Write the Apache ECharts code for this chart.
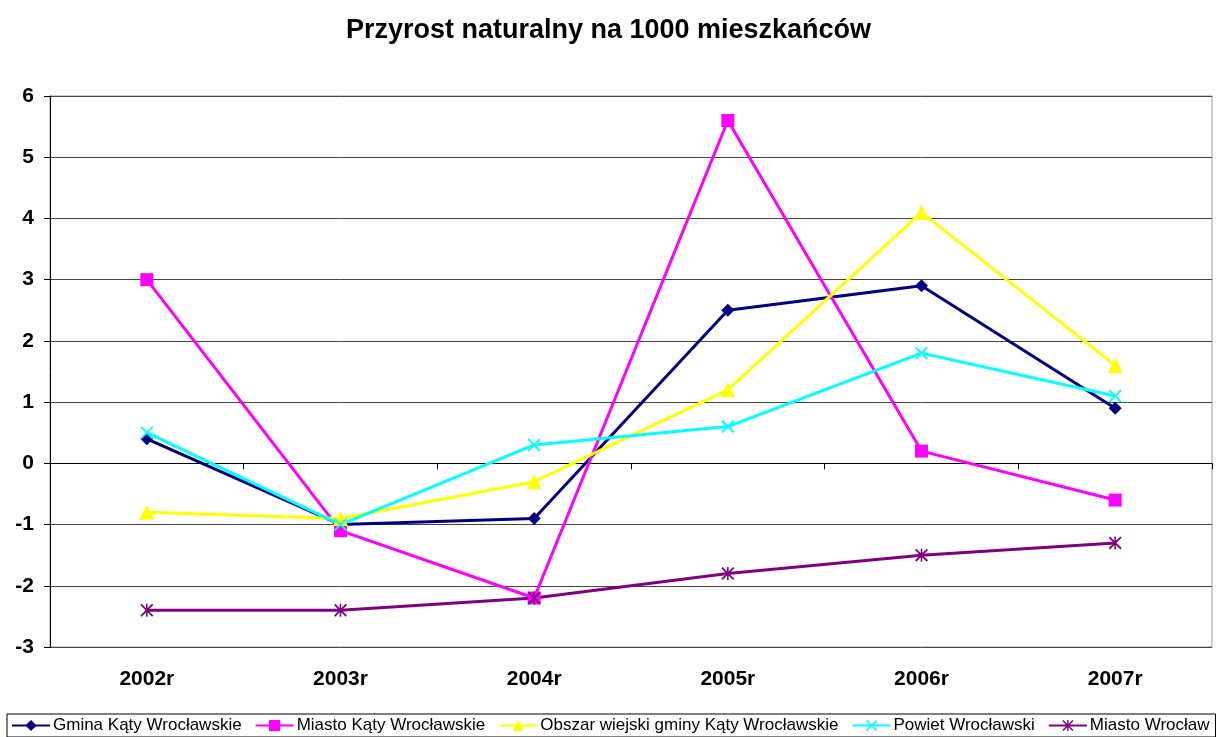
<!DOCTYPE html>
<html>
<head>
<meta charset="utf-8">
<script src="https://cdn.jsdelivr.net/npm/echarts@6/dist/echarts.min.js"></script>
<style>
  html, body { margin: 0; padding: 0; background: #fff; }
  #chart { width: 1217px; height: 737px; }
</style>
</head>
<body>
<div id="chart"></div>
<script>
var years = ['2002r', '2003r', '2004r', '2005r', '2006r', '2007r'];
var gminaKaty = [0.4, -1.0, -0.9, 2.5, 2.9, 0.9];
var miastoKaty = [3.0, -1.1, -2.2, 5.6, 0.2, -0.6];
var obszarWiejski = [-0.8, -0.9, -0.3, 1.2, 4.1, 1.6];
var powiatWroclawski = [0.5, -1.0, 0.3, 0.6, 1.8, 1.1];
var miastoWroclaw = [-2.4, -2.4, -2.2, -1.8, -1.5, -1.3];

// ksztalty znacznikow (x i gwiazdka) jako wypelnione sciezki
var crossPath = 'path://M0,1 L1,0 L5,4 L9,0 L10,1 L6,5 L10,9 L9,10 L5,6 L1,10 L0,9 L4,5 Z';
var starPath = 'path://M0,1 L1,0 L5,4 L9,0 L10,1 L6,5 L10,9 L9,10 L5,6 L1,10 L0,9 L4,5 Z M4.4,0 L5.6,0 L5.6,10 L4.4,10 Z';

function makeSeries (name, data, color, symbol, size) {
  return {
    name: name,
    type: 'line',
    data: data,
    symbol: symbol,
    symbolSize: size,
    showAllSymbol: true,
    lineStyle: { color: color, width: 3 },
    itemStyle: { color: color, borderWidth: 0 },
    emphasis: { disabled: true },
    animation: false
  }
}

var chart = echarts.init(document.getElementById('chart'));
var option = {
  backgroundColor: '#fff',
  title: {
    text: 'Przyrost naturalny na 1000 mieszkańców',
    left: 'center',
    top: 12,
    textStyle: {
      fontFamily: 'Liberation Sans, Arial, sans-serif',
      fontSize: 27,
      fontWeight: 'bold',
      color: '#000'
    }
  },
  legend: {
    left: 7,
    bottom: 0,
    width: 1205,
    padding: [3, 6, 3, 4],
    itemGap: 13,
    itemWidth: 38,
    itemHeight: 14,
    borderColor: '#000',
    borderWidth: 1,
    textStyle: {
      fontFamily: 'Liberation Sans, Arial, sans-serif',
      fontSize: 17,
      color: '#000',
      padding: [0, 0, 0, -2]
    }
  },
  grid: {
    left: 50,
    right: 5,
    top: 96,
    bottom: 90,
    show: true,
    borderColor: '#999',
    borderWidth: 1
  },
  xAxis: {
    type: 'category',
    data: years,
    boundaryGap: true,
    axisLine: { lineStyle: { color: '#000', width: 1 } },
    axisTick: { show: true, length: 6, lineStyle: { color: '#000' } },
    axisLabel: {
      margin: 22,
      fontFamily: 'Liberation Sans, Arial, sans-serif',
      fontSize: 21,
      fontWeight: 'bold',
      color: '#000'
    }
  },
  yAxis: {
    type: 'value',
    min: -3,
    max: 6,
    interval: 1,
    axisLine: { show: true, lineStyle: { color: '#000', width: 1 } },
    axisTick: { show: true, length: 6, lineStyle: { color: '#000' } },
    splitLine: { show: true, lineStyle: { color: '#444', width: 1 } },
    axisLabel: {
      margin: 16,
      fontFamily: 'Liberation Sans, Arial, sans-serif',
      fontSize: 21,
      fontWeight: 'bold',
      color: '#000'
    }
  },
  series: [
    makeSeries('Gmina Kąty Wrocławskie', gminaKaty, '#000080', 'diamond', 13),
    makeSeries('Miasto Kąty Wrocławskie', miastoKaty, '#FF00FF', 'rect', 13),
    makeSeries('Obszar wiejski gminy Kąty Wrocławskie', obszarWiejski, '#FFFF00', 'triangle', 15),
    makeSeries('Powiet Wrocławski', powiatWroclawski, '#00FFFF', crossPath, 13),
    makeSeries('Miasto Wrocław', miastoWroclaw, '#800080', starPath, 13)
  ]
};
chart.setOption(option);
</script>
</body>
</html>
